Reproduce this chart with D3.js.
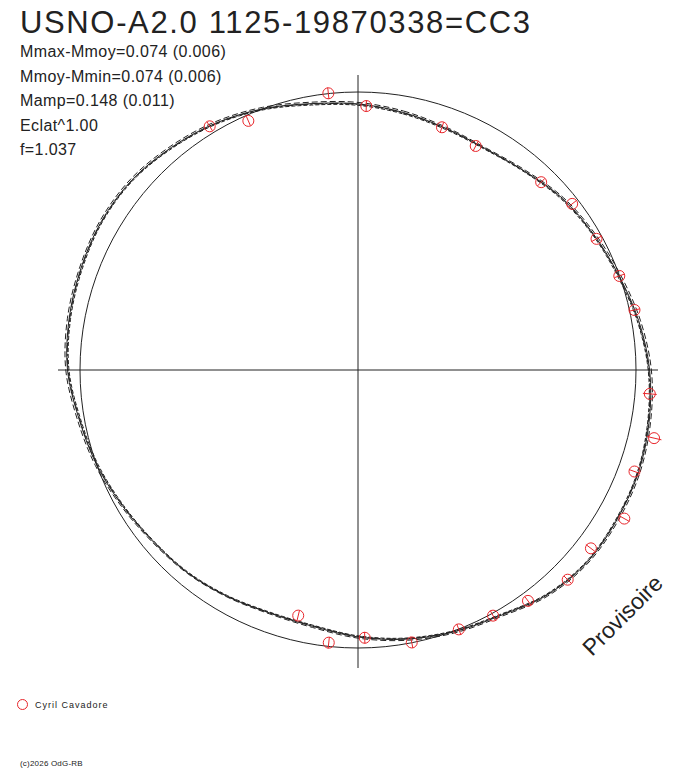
<!DOCTYPE html>
<html>
<head>
<meta charset="utf-8">
<script src="https://cdn.jsdelivr.net/npm/d3@7"></script>
<style>
  html, body { margin: 0; padding: 0; background: #fff; }
  svg { display: block; }
  text { font-family: "Liberation Sans", Arial, sans-serif; fill: #222; }
</style>
</head>
<body>
<svg id="chart" width="688" height="768"></svg>
<script>
// ---------- data ----------
const title = "USNO-A2.0 1125-19870338=CC3";
const infoLines = ["Mmax-Mmoy=0.074 (0.006)", "Mmoy-Mmin=0.074 (0.006)", "Mamp=0.148 (0.011)", "Eclat^1.00", "f=1.037"];
const observer = "Cyril Cavadore";
const copyright = "(c)2026 OdG-RB";
const watermark = "Provisoire";

// observation points: rotational phase (0..1) and magnitude relative to mean
const obsPhase = [0.983, 0.005, 0.913, 0.934, 0.053, 0.077, 0.123, 0.145, 0.170, 0.195, 0.216, 0.263,
                  0.286, 0.306, 0.331, 0.354, 0.375, 0.399, 0.420, 0.441, 0.469, 0.496, 0.517, 0.538];
const obsMag   = [-0.001, 0.048, -0.025, 0.020, 0.073, 0.086, 0.054, 0.024, 0.020, 0.001, -0.017, -0.051,
                  -0.089, -0.057, -0.093, -0.053, -0.064, -0.030, -0.008, -0.001, 0.001, 0.035, 0.013, 0.087];
const obsErr   = [0.020, 0.020, 0.018, 0.018, 0.018, 0.020, 0.018, 0.018, 0.020, 0.018, 0.018, 0.024,
                  0.026, 0.020, 0.020, 0.022, 0.018, 0.018, 0.020, 0.020, 0.020, 0.020, 0.020, 0.018];

// fitted light curves sampled every 10 degrees of phase
const fitPhase = d3.range(36).map(i => i / 36);
const fitA = [0.041, 0.057, 0.072, 0.078, 0.064, 0.038, 0.021, 0.002, -0.024, -0.047, -0.061, -0.071,
              -0.073, -0.073, -0.055, -0.020, -0.003, 0.016, 0.038, 0.061, 0.067, 0.057, 0.045, 0.037,
              0.021, 0.000, -0.018, -0.043, -0.053, -0.059, -0.064, -0.060, -0.043, -0.024, 0.000, 0.026];
const fitB = [0.036, 0.052, 0.068, 0.075, 0.060, 0.034, 0.016, -0.004, -0.030, -0.053, -0.066, -0.076,
              -0.078, -0.077, -0.059, -0.024, -0.007, 0.012, 0.034, 0.057, 0.064, 0.055, 0.043, 0.034,
              0.017, -0.005, -0.024, -0.049, -0.059, -0.064, -0.069, -0.065, -0.048, -0.029, -0.005, 0.021];
const fitC = [0.046, 0.062, 0.076, 0.081, 0.067, 0.043, 0.025, 0.007, -0.019, -0.042, -0.056, -0.067,
              -0.069, -0.069, -0.051, -0.016, 0.001, 0.020, 0.042, 0.065, 0.070, 0.060, 0.048, 0.040,
              0.025, 0.005, -0.013, -0.038, -0.048, -0.054, -0.060, -0.056, -0.039, -0.020, 0.004, 0.031];
const fitD = [0.043, 0.059, 0.073, 0.079, 0.065, 0.040, 0.023, 0.004, -0.021, -0.044, -0.058, -0.069,
              -0.071, -0.071, -0.053, -0.018, -0.001, 0.018, 0.040, 0.063, 0.068, 0.058, 0.046, 0.039,
              0.023, 0.002, -0.016, -0.041, -0.051, -0.057, -0.062, -0.058, -0.041, -0.022, 0.002, 0.028];
const fits = [
  {vals: fitA, dash: null},
  {vals: fitB, dash: "6,3"},
  {vals: fitC, dash: "4,2"},
  {vals: fitD, dash: "9,2,2,2"}
];

// ---------- layout ----------
const cx = 358, cy = 370;
const axisHalfX = 300, axisHalfY = 298;
const svg = d3.select("#chart");

// radial scale: brighter (negative) -> farther out
const r = d3.scaleLinear().domain([0.1, -0.1]).range([249, 307]);
const ang = d3.scaleLinear().domain([0, 1]).range([0, 2 * Math.PI]);

const g = svg.append("g").attr("transform", `translate(${cx},${cy})`);

// axes
g.append("line").attr("x1", -axisHalfX).attr("x2", axisHalfX).attr("y1", 0).attr("y2", 0)
  .attr("stroke", "#222").attr("stroke-width", 1);
g.append("line").attr("x1", 0).attr("x2", 0).attr("y1", -axisHalfY + 3).attr("y2", axisHalfY)
  .attr("stroke", "#222").attr("stroke-width", 1);

// mean circle
g.append("circle").attr("r", r(0)).attr("fill", "none").attr("stroke", "#222").attr("stroke-width", 1);

// fits
const radial = d3.lineRadial()
  .angle(d => ang(d[0]))
  .radius(d => r(d[1]))
  .curve(d3.curveCatmullRomClosed.alpha(0.5));
fits.forEach(f => {
  g.append("path")
    .attr("d", radial(fitPhase.map((p, i) => [p, f.vals[i]])))
    .attr("fill", "none").attr("stroke", "#222").attr("stroke-width", 1)
    .attr("stroke-dasharray", f.dash);
});

// points
const pts = obsPhase.map((p, i) => ({p, m: obsMag[i], e: obsErr[i]}));
const px = (p, m) => r(m) * Math.sin(ang(p));
const py = (p, m) => -r(m) * Math.cos(ang(p));
const pg = g.append("g");
pg.selectAll("line.err").data(pts).join("line").attr("class", "err")
  .attr("x1", d => px(d.p, d.m - d.e)).attr("y1", d => py(d.p, d.m - d.e))
  .attr("x2", d => px(d.p, d.m + d.e)).attr("y2", d => py(d.p, d.m + d.e))
  .attr("stroke", "#e8262b").attr("stroke-width", 1);
pg.selectAll("circle.pt").data(pts).join("circle").attr("class", "pt")
  .attr("cx", d => px(d.p, d.m)).attr("cy", d => py(d.p, d.m)).attr("r", 5.5)
  .attr("fill", "none").attr("stroke", "#e8262b").attr("stroke-width", 1);

// title
svg.append("text").attr("x", 20).attr("y", 33).attr("font-size", 31)
  .attr("textLength", 510).attr("lengthAdjust", "spacing").text(title);

// info lines
svg.selectAll("text.info").data(infoLines).join("text").attr("class", "info")
  .attr("x", 20).attr("y", (d, i) => 57 + i * 24.6).attr("font-size", 16)
  .attr("letter-spacing", 0.4).text(d => d);

// watermark
svg.append("text").attr("transform", "translate(592,657) rotate(-45)")
  .attr("font-size", 23).text(watermark);

// legend
svg.append("circle").attr("cx", 22.5).attr("cy", 704.5).attr("r", 5)
  .attr("fill", "none").attr("stroke", "#e8262b").attr("stroke-width", 1);
svg.append("text").attr("x", 35).attr("y", 708).attr("font-size", 9)
  .attr("letter-spacing", 1.0).text(observer);
svg.append("text").attr("x", 20).attr("y", 766).attr("font-size", 8)
  .attr("letter-spacing", 0.2).text(copyright);
</script>
</body>
</html>
